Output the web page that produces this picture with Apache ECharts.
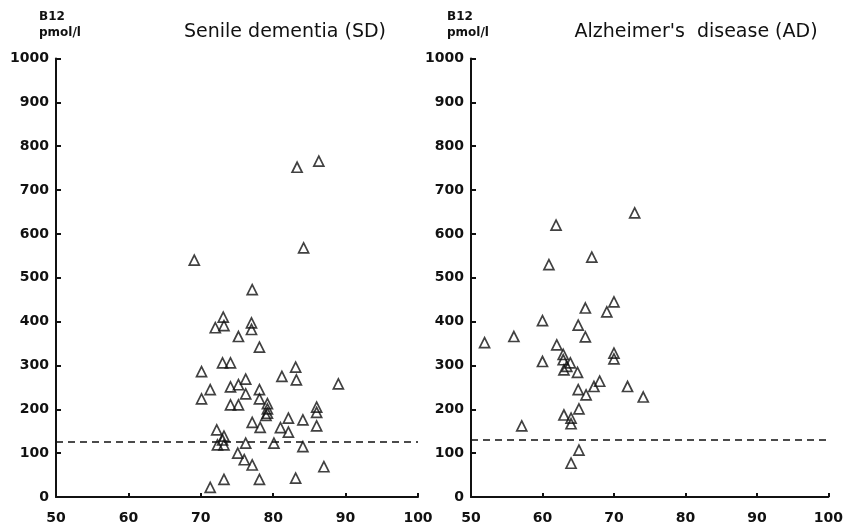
<!DOCTYPE html>
<html>
<head>
<meta charset="utf-8">
<script src="https://cdn.jsdelivr.net/npm/echarts@6/dist/echarts.min.js"></script>
<style>
  html, body { margin: 0; padding: 0; background: #fff; }
  #chart { width: 846px; height: 528px; }
</style>
</head>
<body>
<div id="chart"></div>
<script>
// Serum B12 (pmol/l) against age (years), one panel per diagnosis group.
const panelTitles = ['Senile dementia (SD)', "Alzheimer's  disease (AD)"];
const unitLabel = 'B12\npmol/l';
const xTicks = [50, 60, 70, 80, 90, 100];
const yTicks = [0, 100, 200, 300, 400, 500, 600, 700, 800, 900, 1000];

// Senile dementia: age, B12
const sdAge = [69.1, 83.3, 86.3, 84.2, 77.1, 73.1, 72.0, 73.2, 77.0, 77.0, 75.2, 78.1,
  73.0, 74.1, 70.1, 83.1, 81.2, 83.2, 89.0, 71.3, 70.1, 74.1, 75.2, 76.2, 78.1, 76.2,
  78.1, 74.1, 75.2, 79.2, 79.2, 79.2, 79.0, 86.0, 86.0, 86.0, 82.1, 84.1, 77.1, 78.2,
  81.0, 82.1, 72.2, 73.2, 72.3, 73.2, 73.0, 76.2, 80.1, 84.1, 75.1, 76.0, 77.1, 87.0,
  78.1, 73.2, 83.1, 71.3];
const sdB12 = [540, 752, 766, 568, 473, 410, 386, 391, 397, 382, 366, 342,
  306, 306, 286, 296, 275, 267, 258, 245, 224, 251, 256, 269, 245, 235,
  224, 210, 210, 213, 201, 191, 186, 205, 193, 162, 180, 176, 170, 159,
  158, 148, 153, 139, 119, 119, 130, 123, 123, 115, 100, 85, 73, 69,
  40, 40, 43, 22];

// Alzheimer's disease: age, B12
const adAge = [51.9, 56.0, 57.1, 72.9, 61.9, 66.9, 60.9, 70.0, 66.0, 69.0, 60.0, 65.0,
  66.0, 62.0, 70.0, 70.0, 60.0, 62.9, 62.9, 63.9, 63.0, 64.9, 68.0, 67.2, 71.9, 74.1,
  65.0, 66.1, 65.1, 63.0, 64.0, 64.0, 65.1, 64.0, 63.4];
const adB12 = [352, 366, 162, 648, 620, 547, 530, 445, 431, 422, 402, 392,
  365, 347, 328, 315, 309, 325, 313, 306, 290, 284, 264, 252, 252, 228,
  245, 233, 201, 187, 180, 167, 107, 77, 298];

// Dashed lower reference level of each panel
const sdCutoff = 127;
const adCutoff = 131;

const pairs = (xs, ys) => xs.map((x, i) => [x, ys[i]]);

const ink = '#111';
const tickFont = { color: ink, fontFamily: 'DejaVu Sans', fontWeight: 'bold', fontSize: 14 };
const plain = v => String(v);

function xAxis(gridIndex) {
  return {
    gridIndex, type: 'value', min: 50, max: 100, interval: 10,
    axisLine: { onZero: false, lineStyle: { color: ink, width: 2 } },
    axisTick: { inside: true, length: 4, lineStyle: { color: ink, width: 2 } },
    axisLabel: Object.assign({ margin: 14, showMinLabel: true, showMaxLabel: true,
      customValues: xTicks, formatter: plain }, tickFont),
    splitLine: { show: false }
  };
}
function yAxis(gridIndex) {
  return {
    gridIndex, type: 'value', min: 0, max: 1000, interval: 100,
    axisLine: { show: true, lineStyle: { color: ink, width: 2 } },
    axisTick: { show: true, inside: true, length: 5, lineStyle: { color: ink, width: 2 } },
    axisLabel: Object.assign({ margin: 7, customValues: yTicks, formatter: plain }, tickFont),
    splitLine: { show: false }
  };
}
function scatter(i, data, cutoff) {
  return {
    type: 'scatter', xAxisIndex: i, yAxisIndex: i, data,
    symbol: 'triangle', symbolSize: 10,
    itemStyle: { color: 'rgba(255,255,255,0)', borderColor: ink, borderWidth: 1.7 },
    markLine: {
      silent: true, symbol: 'none', label: { show: false },
      lineStyle: { color: ink, type: [7, 5], width: 1.6 },
      data: [{ yAxis: cutoff }]
    }
  };
}

const titleFont = { color: ink, fontFamily: 'DejaVu Sans', fontWeight: 'normal', fontSize: 19 };
const unitFont = { color: ink, fontFamily: 'DejaVu Sans', fontWeight: 'bold', fontSize: 12, lineHeight: 16 };

const chart = echarts.init(document.getElementById('chart'), null, { renderer: 'canvas' });
chart.setOption({
  backgroundColor: '#fff',
  animation: false,
  title: [
    { text: panelTitles[0], left: 280, top: 18, textAlign: 'center', textStyle: titleFont },
    { text: panelTitles[1], left: 691, top: 18, textAlign: 'center', textStyle: titleFont },
    { text: unitLabel, left: 34, top: 4, textStyle: unitFont },
    { text: unitLabel, left: 442, top: 4, textStyle: unitFont }
  ],
  grid: [
    { left: 56, width: 362, top: 58.5, height: 438.5 },
    { left: 471, width: 362, top: 58.5, height: 438.5 }
  ],
  xAxis: [xAxis(0), xAxis(1)],
  yAxis: [yAxis(0), yAxis(1)],
  series: [
    scatter(0, pairs(sdAge, sdB12), sdCutoff),
    scatter(1, pairs(adAge, adB12), adCutoff)
  ]
});
</script>
</body>
</html>
